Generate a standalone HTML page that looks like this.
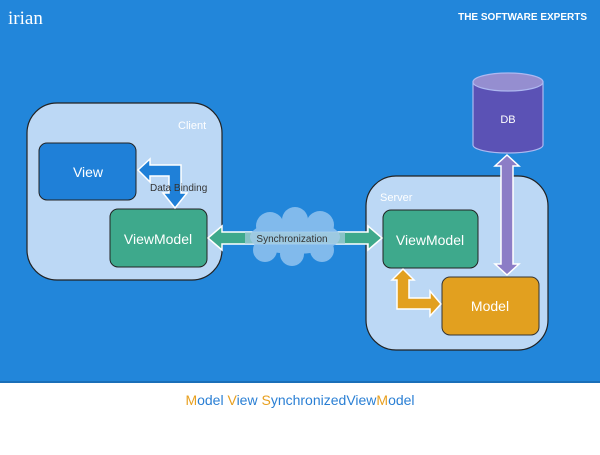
<!DOCTYPE html>
<html><head><style>body{margin:0;width:600px;height:450px;overflow:hidden;background:#fff}</style></head><body>
<svg width="600" height="450" xmlns="http://www.w3.org/2000/svg" font-family="Liberation Sans, sans-serif">
<rect width="600" height="382" fill="#2286da"/>
<rect y="381" width="600" height="2" fill="#1b6fb8"/>
<text x="8" y="24" font-family="Liberation Serif, serif" font-size="19" fill="#fff">irian</text>
<text x="587" y="20" text-anchor="end" font-size="10" font-weight="bold" fill="#fff">THE SOFTWARE EXPERTS</text>
<!-- client -->
<rect x="27" y="103" width="195" height="177" rx="30" fill="#bcd8f5" stroke="#222" stroke-width="1.2"/>
<text x="178" y="129" font-size="11" fill="#fff">Client</text>
<rect x="39" y="143" width="97" height="57" rx="8" fill="#1f80d8" stroke="#222"/>
<text x="88" y="177" text-anchor="middle" font-size="14" fill="#fff">View</text>
<rect x="110" y="209" width="97" height="58" rx="8" fill="#3ea98c" stroke="#222"/>
<text x="158" y="244" text-anchor="middle" font-size="14" fill="#fff">ViewModel</text>
<!-- data binding arrow -->
<path d="M138,170 L150,159 L150,165 L181,165 L181,193 L187,193 L175,208 L163,193 L169,193 L169,176 L150,176 L150,182 Z" fill="#1f80d8" stroke="#fff" stroke-width="1.5"/>
<text x="150" y="191" font-size="10" fill="#333">Data Binding</text>
<!-- server -->
<rect x="366" y="176" width="182" height="174" rx="30" fill="#bcd8f5" stroke="#222" stroke-width="1.2"/>
<text x="380" y="201" font-size="11" fill="#fff">Server</text>
<rect x="383" y="210" width="95" height="58" rx="8" fill="#3ea98c" stroke="#222"/>
<text x="430" y="245" text-anchor="middle" font-size="14" fill="#fff">ViewModel</text>
<rect x="442" y="277" width="97" height="58" rx="8" fill="#e2a01f" stroke="#333"/>
<text x="490" y="311" text-anchor="middle" font-size="14" fill="#fff">Model</text>
<!-- orange arrow -->
<path d="M403,269 L414,280 L409,280 L409,298 L430,298 L430,291 L441,304 L430,316 L430,309 L397,309 L397,280 L392,280 Z" fill="#e2a01f" stroke="#fff" stroke-width="1.5"/>
<!-- DB -->
<path d="M473,82 L473,145 A35,8 0 0 0 543,145 L543,82 Z" fill="#5b52b5" stroke="#aeb8f0" stroke-width="1.2"/>
<ellipse cx="508" cy="82" rx="35" ry="9" fill="#958ed0" stroke="#aeb8f0" stroke-width="1.2"/>
<text x="508" y="123" text-anchor="middle" font-size="11" fill="#fff">DB</text>
<path d="M507,155 L519,166 L513,166 L513,264 L519,264 L507,275 L495,264 L501,264 L501,166 L495,166 Z" fill="#8c7dc6" stroke="#fff" stroke-width="1.5"/>
<!-- sync arrow -->
<path d="M208,238 L222,226 L222,232 L368,232 L368,226 L382,238 L368,250 L368,244 L222,244 L222,250 Z" fill="#3ea98c" stroke="#fff" stroke-width="1.5"/>
<g fill="#8cc0ee" opacity="0.9">
<ellipse cx="295" cy="237" rx="45" ry="17"/>
<circle cx="270" cy="226" r="14"/><circle cx="295" cy="220" r="13"/><circle cx="320" cy="225" r="14"/>
<circle cx="265" cy="250" r="12"/><circle cx="292" cy="254" r="12"/><circle cx="322" cy="250" r="12"/>
</g>
<rect x="245" y="232" width="100" height="12" fill="#a8cfe0" opacity="0.7"/>
<text x="292" y="242" text-anchor="middle" font-size="10" fill="#333">Synchronization</text>
<!-- footer -->
<text x="300" y="405" text-anchor="middle" font-size="14" fill="#2a7fd4"><tspan fill="#e8a020">M</tspan>odel <tspan fill="#e8a020">V</tspan>iew <tspan fill="#e8a020">S</tspan>ynchronized<tspan>View</tspan><tspan fill="#e8a020">M</tspan>odel</text>
</svg>
</body></html>
